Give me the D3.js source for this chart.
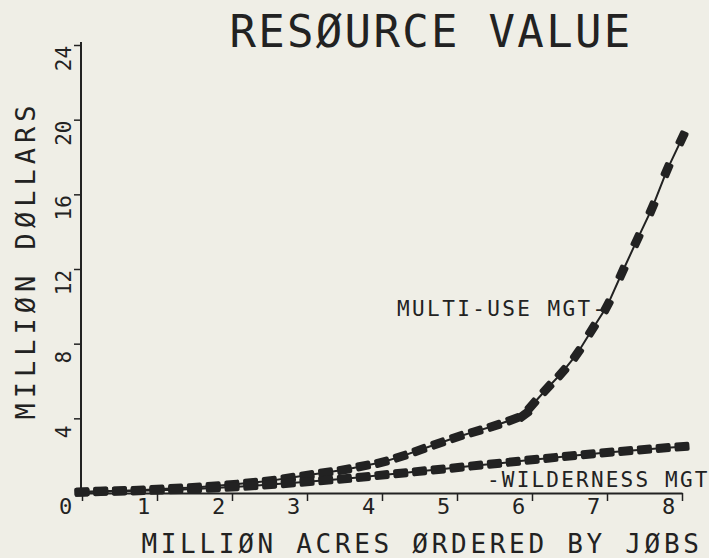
<!DOCTYPE html>
<html>
<head>
<meta charset="utf-8">
<script src="https://cdnjs.cloudflare.com/ajax/libs/d3/7.8.5/d3.min.js"></script>
<style>
  html, body { margin: 0; padding: 0; background: #efeee6; }
  svg { display: block; }
  text { font-family: "DejaVu Sans Mono", monospace; fill: #222; }
</style>
</head>
<body>
<svg id="chart" width="709" height="558"></svg>
<script>
// ---- data ----
const titleText = "RESØURCE VALUE";
const xTitle = "MILLIØN ACRES ØRDERED BY JØBS";
const yTitle = "MILLIØN DØLLARS";
const xTicks = [0, 1, 2, 3, 4, 5, 6, 7, 8];
const yTicks = [4, 8, 12, 16, 20, 24];

const multiX = [0, 0.25, 0.5, 0.75, 1.0, 1.25, 1.5, 1.75, 2.0, 2.25, 2.5, 2.75, 3.0, 3.25, 3.5, 3.75,
                4.0, 4.25, 4.5, 4.75, 5.0, 5.25, 5.5, 5.75, 5.9, 6.0, 6.2, 6.4, 6.6, 6.8, 7.0, 7.2, 7.4, 7.6, 7.8, 8.0];
const multiY = [0.05, 0.1, 0.12, 0.15, 0.2, 0.25, 0.3, 0.37, 0.45, 0.55, 0.65, 0.8, 0.95, 1.1, 1.25, 1.45,
                1.65, 1.95, 2.3, 2.65, 3.0, 3.3, 3.6, 3.95, 4.2, 4.7, 5.6, 6.45, 7.45, 8.75, 10.0, 11.8, 13.55, 15.25, 17.3, 19.0];

const wildX = [0, 0.25, 0.5, 0.75, 1.0, 1.25, 1.5, 1.75, 2.0, 2.25, 2.5, 2.75, 3.0, 3.25, 3.5, 3.75,
               4.0, 4.25, 4.5, 4.75, 5.0, 5.25, 5.5, 5.75, 6.0, 6.25, 6.5, 6.75, 7.0, 7.25, 7.5, 7.75, 8.0];
const wildY = [0.05, 0.08, 0.1, 0.12, 0.15, 0.18, 0.22, 0.27, 0.32, 0.38, 0.45, 0.52, 0.6, 0.68, 0.76, 0.86,
               0.96, 1.06, 1.16, 1.26, 1.36, 1.47, 1.57, 1.67, 1.78, 1.88, 1.98, 2.08, 2.17, 2.25, 2.33, 2.41, 2.48];

const multiLabel = "MULTI-USE MGT-";
const wildLabel = "-WILDERNESS MGT";

// ---- layout ----
const svg = d3.select("#chart");
const ink = "#222";
const x = d3.scaleLinear().domain([0, 8]).range([82, 682]);
const y = d3.scaleLinear().domain([0, 24]).range([493, 45]);

// Title
svg.append("text").attr("x", 431).attr("y", 47).attr("text-anchor", "middle")
  .style("font-size", "44px").style("letter-spacing", "2.3px").text(titleText);

// X axis
const xAxis = d3.axisBottom(x).tickValues(xTicks).tickSize(8).tickSizeOuter(0).tickFormat(d3.format("d"));
const gx = svg.append("g").attr("transform", `translate(0,${y(0)})`).call(xAxis);
gx.select(".domain").attr("stroke", ink).attr("stroke-width", 2);
gx.selectAll(".tick line").attr("stroke", ink).attr("stroke-width", 1.5);
gx.selectAll(".tick text").attr("x", -14).attr("y", 21).attr("dy", 0)
  .attr("fill", ink).style("font-size", "22px").style("font-family", "DejaVu Sans Mono, monospace");
gx.selectAll(".tick").filter(d => d === 0).select("text").attr("x", -17);

// Y axis
const yAxis = d3.axisLeft(y).tickValues(yTicks).tickSize(7).tickSizeOuter(0).tickFormat(d3.format("d"));
const gy = svg.append("g").attr("transform", `translate(${x(0) - 1},0)`).call(yAxis);
gy.select(".domain").attr("stroke", ink).attr("stroke-width", 2);
gy.selectAll(".tick line").attr("stroke", ink).attr("stroke-width", 1.5);
gy.selectAll(".tick text")
  .attr("x", null).attr("dy", null).attr("text-anchor", "middle")
  .attr("transform", "translate(-10,13) rotate(-90)")
  .attr("fill", ink).style("font-size", "21px").style("font-family", "DejaVu Sans Mono, monospace");
gy.select(".domain").attr("d", `M0,${y(0)}V${y(24) - 3}`);

// Axis titles
svg.append("text").attr("x", 422).attr("y", 553).attr("text-anchor", "middle")
  .style("font-size", "26px").style("letter-spacing", "3.7px").text(xTitle);
svg.append("text").attr("transform", "translate(35,260) rotate(-90)").attr("text-anchor", "middle")
  .style("font-size", "27px").style("letter-spacing", "5px").text(yTitle);

// Series
function drawSeries(xs, ys) {
  const pts = xs.map((d, i) => [d, ys[i]]);
  const line = d3.line().x(d => x(d[0])).y(d => y(d[1]));
  svg.append("path").datum(pts).attr("d", line).attr("fill", "none")
    .attr("stroke", ink).attr("stroke-width", 2);
  svg.append("g").selectAll("rect").data(pts).join("rect")
    .attr("x", -7.5).attr("y", -4.5).attr("width", 15).attr("height", 9).attr("rx", 2)
    .attr("fill", ink)
    .attr("transform", (d, i) => {
      const a = pts[Math.max(0, i - 1)], b = pts[Math.min(pts.length - 1, i + 1)];
      const ang = Math.atan2(y(b[1]) - y(a[1]), x(b[0]) - x(a[0])) * 180 / Math.PI;
      return `translate(${x(d[0])},${y(d[1])}) rotate(${ang})`;
    });
}
drawSeries(multiX, multiY);
drawSeries(wildX, wildY);

// Series labels
svg.append("text").attr("x", 397).attr("y", 316)
  .style("font-size", "21px").style("letter-spacing", "2.4px").text(multiLabel);
svg.append("text").attr("x", 487).attr("y", 487)
  .style("font-size", "21px").style("letter-spacing", "2.2px").text(wildLabel);
</script>
</body>
</html>
